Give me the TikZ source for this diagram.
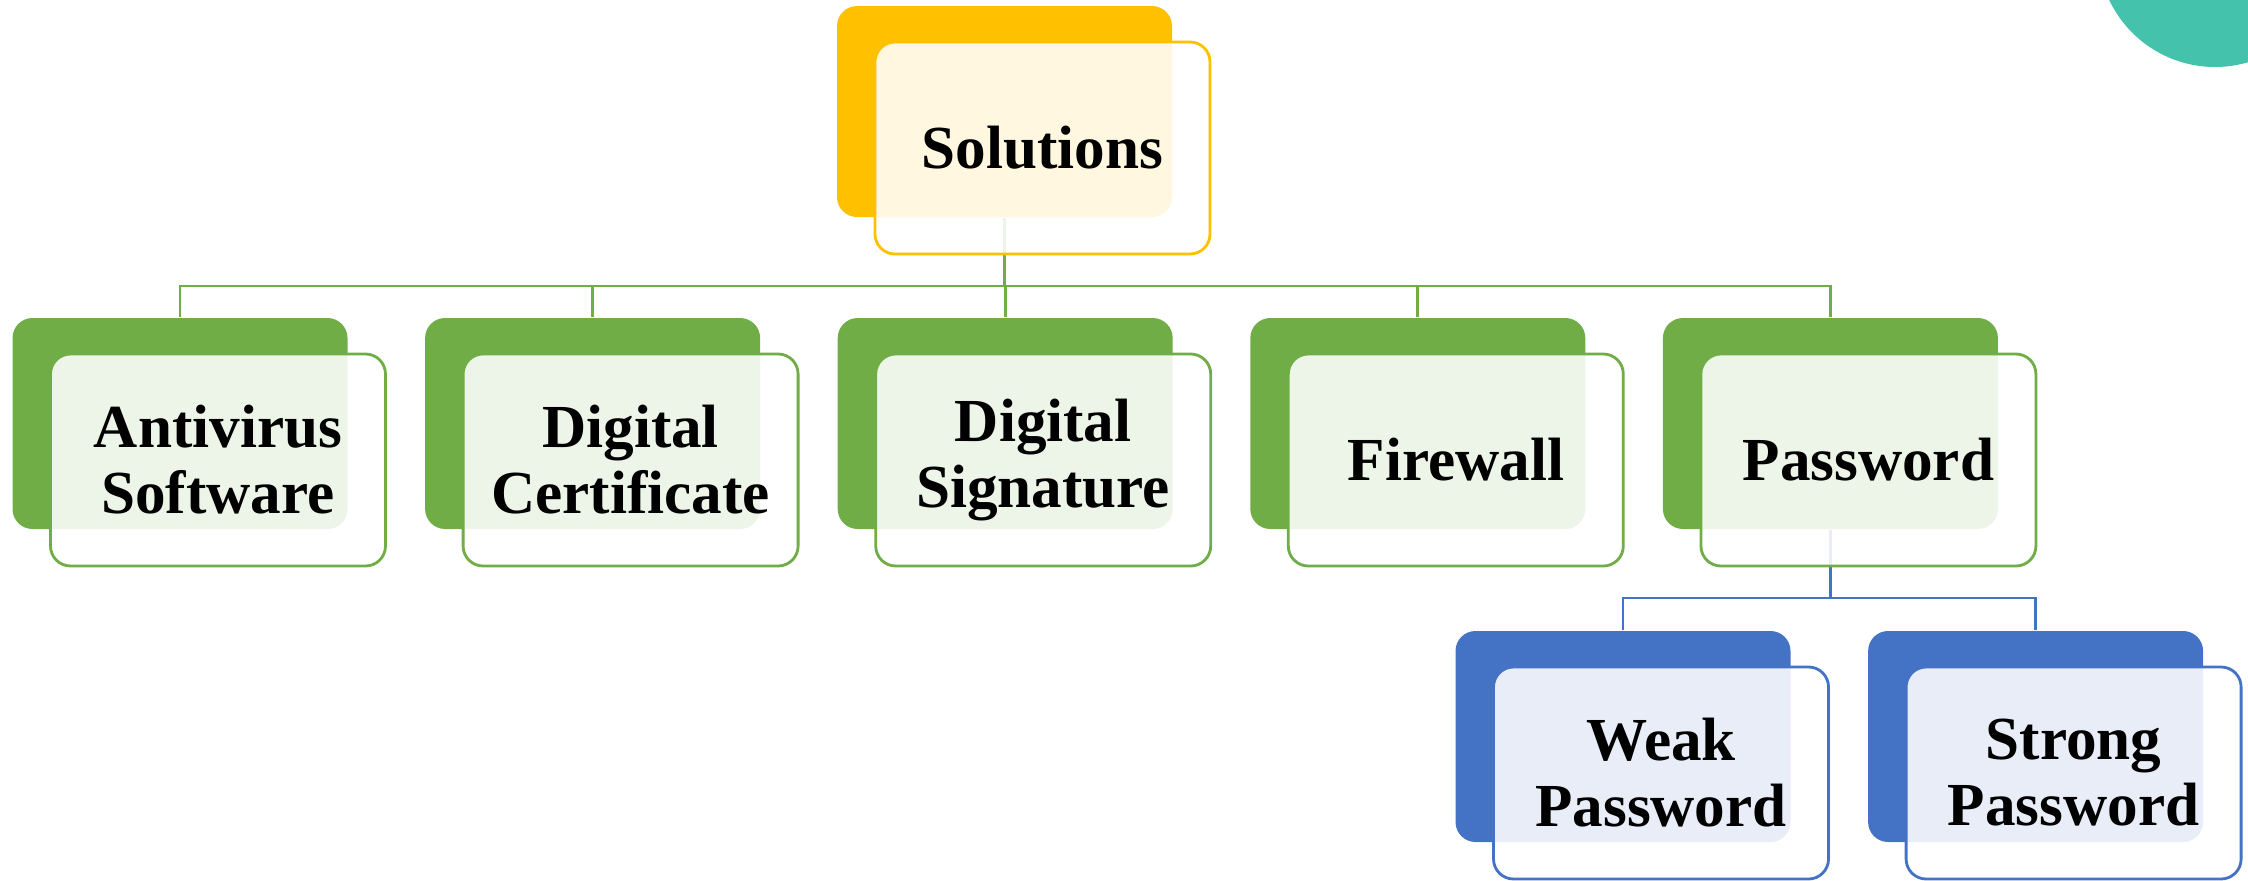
\documentclass[tikz,border=0pt]{standalone}
\usepackage{fontspec}
\setmainfont{Liberation Serif}
\usetikzlibrary{calc,positioning}
\definecolor{gold}{HTML}{FFC000}
\definecolor{leaf}{HTML}{70AD47}
\definecolor{sky}{HTML}{4472C4}
\definecolor{mint}{HTML}{45C2AC}

\tikzset{
  backbox/.style={fill=#1,rounded corners=0.2cm,minimum width=3.35cm,minimum height=2.11cm,inner sep=0pt},
  frontbox/.style={draw=#1,line width=0.8pt,fill=white,fill opacity=0.88,text opacity=1,rounded corners=0.2cm,
    minimum width=3.35cm,minimum height=2.12cm,align=center,font=\bfseries\fontsize{17.4}{18.8}\selectfont},
  link/.style={draw=#1,line width=0.8pt}
}

\begin{document}
\begin{tikzpicture}[node distance=0.762cm]
\useasboundingbox (0,0) rectangle (22.48,-8.80);
\fill[mint] (22.15,0.50) circle (1.17);

% back plates
\node[backbox=gold] (solB) at (10.045,-1.115) {};
\node[backbox=leaf] (avB) at (1.80,-4.235) {};
\node[backbox=leaf,right=of avB] (certB) {};
\node[backbox=leaf,right=of certB] (sigB) {};
\node[backbox=leaf,right=of sigB] (fwB) {};
\node[backbox=leaf,right=of fwB] (pwB) {};
\node[backbox=sky] (weakB) at (16.23,-7.365) {};
\node[backbox=sky,right=of weakB] (strongB) {};

% tree lines
\coordinate (bus) at (0,-2.86);
\coordinate (pbus) at (0,-5.98);
\foreach \n in {avB,certB,sigB,fwB,pwB}
  \draw[link=leaf] (solB.south) -- (solB.south |- bus) -| (\n.north);
\foreach \n in {weakB,strongB}
  \draw[link=sky] (pwB.south) -- (pwB.south |- pbus) -| (\n.north);

% front cards with the labels
\node[frontbox=gold] (sol) at ($(solB)+(0.38,-0.365)$) {Solutions};
\node[frontbox=leaf] (av) at ($(avB)+(0.38,-0.365)$) {Antivirus\\Software};
\node[frontbox=leaf] (cert) at ($(certB)+(0.38,-0.365)$) {Digital\\Certificate};
\node[frontbox=leaf] (sig) at ($(sigB)+(0.38,-0.365)$) {Digital\\Signature};
\node[frontbox=leaf] (fw) at ($(fwB)+(0.38,-0.365)$) {Firewall};
\node[frontbox=leaf] (pw) at ($(pwB)+(0.38,-0.365)$) {Password};
\node[frontbox=sky] (weak) at ($(weakB)+(0.38,-0.365)$) {Weak\\Password};
\node[frontbox=sky] (strong) at ($(strongB)+(0.38,-0.365)$) {Strong\\Password};
\end{tikzpicture}
\end{document}
